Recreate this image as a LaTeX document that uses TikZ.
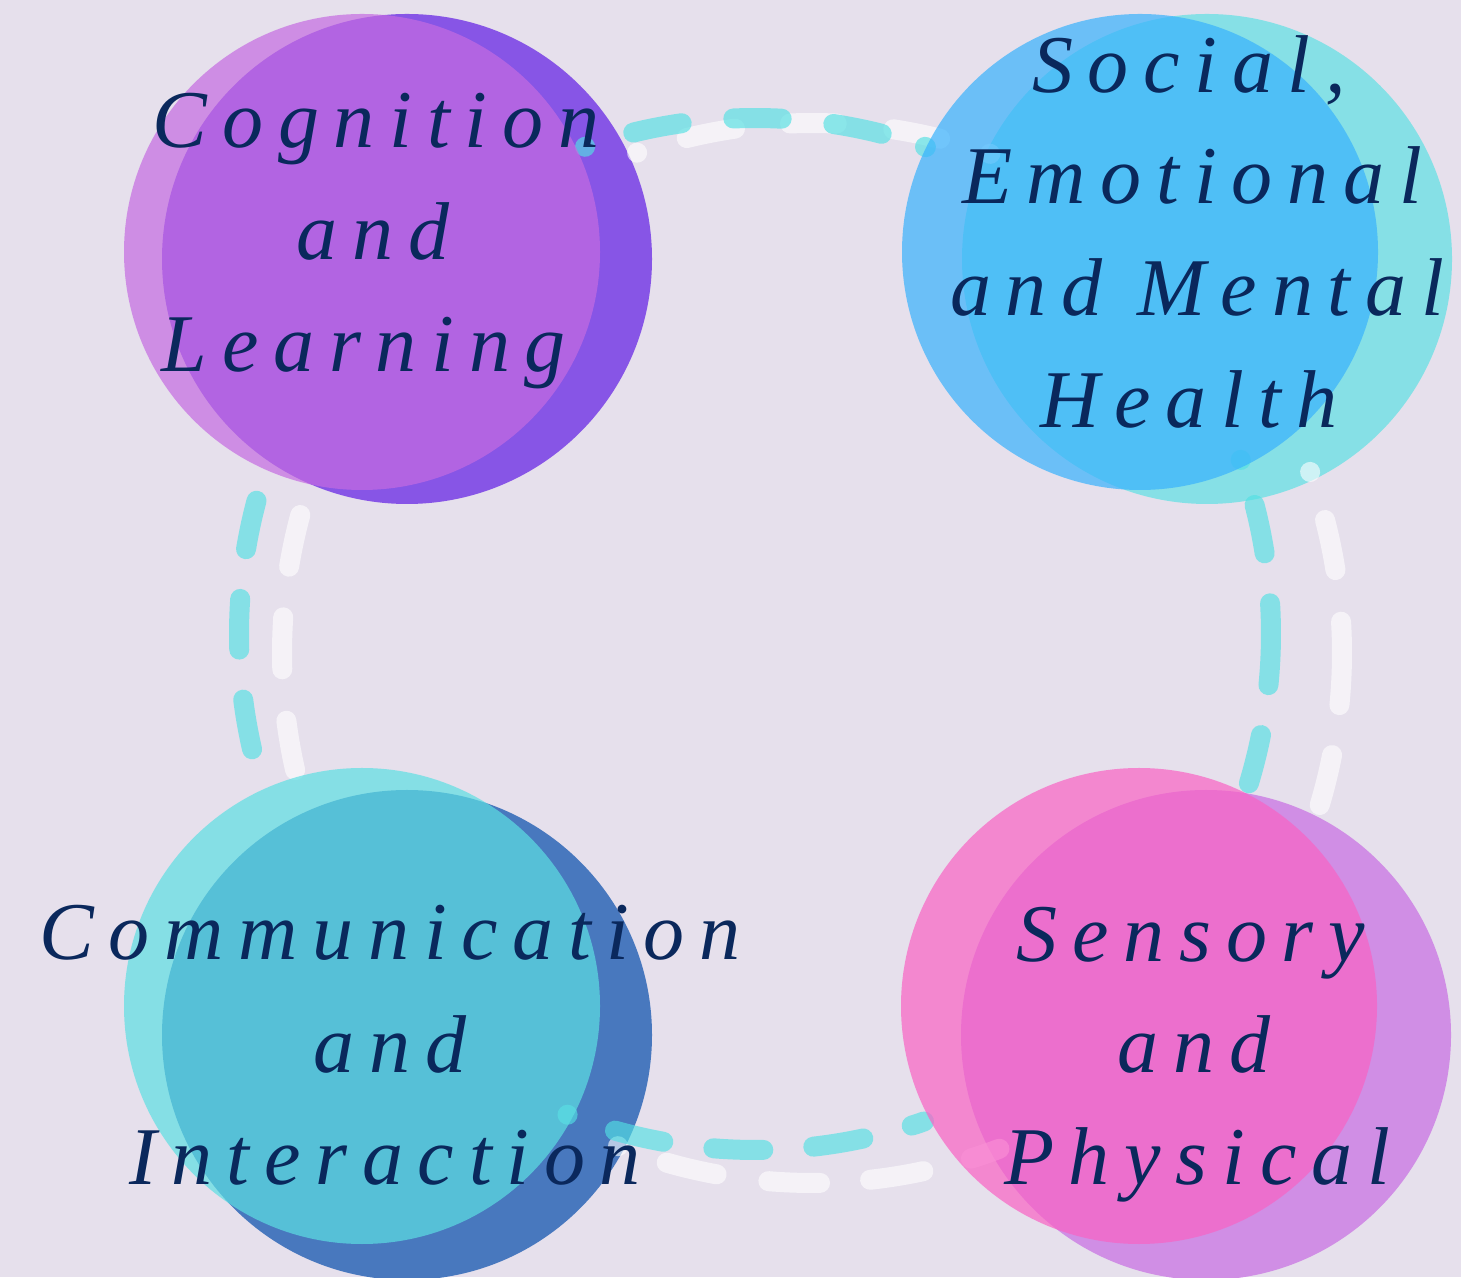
\documentclass[tikz,border=0pt]{standalone}
\usepackage{fontspec}
\newfontfamily\lblfont[LetterSpace=18]{Liberation Serif Italic}
\definecolor{bgcol}{RGB}{230,224,236}
\definecolor{tlback}{RGB}{135,85,230}
\definecolor{tlfront}{RGB}{197,107,225}
\definecolor{trback}{RGB}{134,224,230}
\definecolor{trfront}{RGB}{56,178,253}
\definecolor{blback}{RGB}{72,120,190}
\definecolor{blfront}{RGB}{93,223,227}
\definecolor{brback}{RGB}{208,142,229}
\definecolor{brfront}{RGB}{249,98,196}
\definecolor{ringcyan}{RGB}{82,224,227}
\definecolor{navy}{RGB}{10,40,92}
\tikzset{
  disc/.style={circle, inner sep=0pt, draw=none},
  backdisc/.style={disc, minimum size=490pt},
  frontdisc/.style={disc, minimum size=476pt, fill opacity=0.7},
  cyanarc/.style={draw=ringcyan, draw opacity=0.65, line width=20pt, line cap=round},
  whitearc/.style={draw=white, draw opacity=0.6, line width=20pt, line cap=round},
  lbl/.style={text=navy, font=\lblfont\fontsize{82}{96}\selectfont, inner sep=0pt, anchor=base}
}
\begin{document}
\begin{tikzpicture}[x=1pt,y=1pt]
\useasboundingbox (0,0) rectangle (1461,1277);
\fill[bgcol] (0,0) rectangle (1461,1277);
\coordinate (cring) at (755,643);
\coordinate (wring) at (812,624);
% back circles
\node[backdisc, fill=tlback] (tlb) at (407,1018) {};
\node[backdisc, fill=trback] (trb) at (1207,1018) {};
\node[backdisc, fill=blback] (blb) at (407,242) {};
\node[backdisc, fill=brback] (brb) at (1206,242) {};
% white dashed ring arcs
\draw[whitearc, dash pattern=on 0.1pt off 51.7pt on 49.2pt off 55.3pt on 46.7pt off 56.9pt on 47.7pt off 52pt on 5pt off 100pt]
  ([shift={(109.275:530pt)}]wring) arc[start angle=109.275, end angle=70.346, radius=530pt];
\draw[whitearc, dash pattern=on 0.1pt off 50.3pt on 51.1pt off 52pt on 83.5pt off 50.5pt on 51.5pt off 100pt]
  ([shift={(19.978:530pt)}]wring) arc[start angle=19.978, end angle=-16.670, radius=530pt];
\draw[whitearc, dash pattern=on 0.1pt off 51.4pt on 51.3pt off 52.2pt on 51.7pt off 50.2pt on 54pt off 49.3pt on 30pt off 100pt]
  ([shift={(-111.480:530pt)}]wring) arc[start angle=-111.480, end angle=-67.136, radius=530pt];
\draw[whitearc, dash pattern=on 52.9pt off 51pt on 52pt off 51.6pt on 50.1pt off 100pt]
  ([shift={(164.909:530pt)}]wring) arc[start angle=164.909, end angle=192.756, radius=530pt];
% cyan dashed ring arcs
\draw[cyanarc, dash pattern=on 0.1pt off 50.2pt on 49.3pt off 51.9pt on 48.4pt off 51.9pt on 49.4pt off 45.2pt on 5pt off 100pt]
  ([shift={(109.232:516pt)}]cring) arc[start angle=109.232, end angle=70.657, radius=516pt];
\draw[cyanarc, dash pattern=on 0.1pt off 47.1pt on 49.4pt off 50.3pt on 81.9pt off 50.5pt on 49.8pt off 100pt]
  ([shift={(19.72:516pt)}]cring) arc[start angle=19.72, end angle=-16.82, radius=516pt];
\draw[cyanarc, dash pattern=on 0.1pt off 50pt on 49.6pt off 50.5pt on 50pt off 50.1pt on 50.7pt off 50.1pt on 13pt off 100pt]
  ([shift={(-111.308:516pt)}]cring) arc[start angle=-111.308, end angle=-66.771, radius=516pt];
\draw[cyanarc, dash pattern=on 49.6pt off 50.1pt on 50.7pt off 50.2pt on 50.5pt off 100pt]
  ([shift={(165.032:516pt)}]cring) arc[start angle=165.032, end angle=192.914, radius=516pt];
% front circles
\node[frontdisc, fill=tlfront] (tlf) at (362,1025) {};
\node[frontdisc, fill=trfront] (trf) at (1140,1025) {};
\node[frontdisc, fill=blfront] (blf) at (362,271) {};
\node[frontdisc, fill=brfront] (brf) at (1139,271) {};
% labels
\node[lbl] (tl1) at (376,1129) {Cognition};
\node[lbl] (tl2) at (373,1017) {and};
\node[lbl] (tl3) at (364,905) {Learning};
\node[lbl] (tr1) at (1189,1184) {Social,};
\node[lbl] (tr2) at (1192,1073) {Emotional};
\node[lbl] (tr3) at (1197,961) {and Mental};
\node[lbl] (tr4) at (1189,849) {Health};
\node[lbl] (bl1) at (390,317) {Communication};
\node[lbl] (bl2) at (390,204) {and};
\node[lbl] (bl3) at (385,93) {Interaction};
\node[lbl] (br1) at (1191,315) {Sensory};
\node[lbl] (br2) at (1194,204) {and};
\node[lbl] (br3) at (1197,93) {Physical};
\end{tikzpicture}
\end{document}
